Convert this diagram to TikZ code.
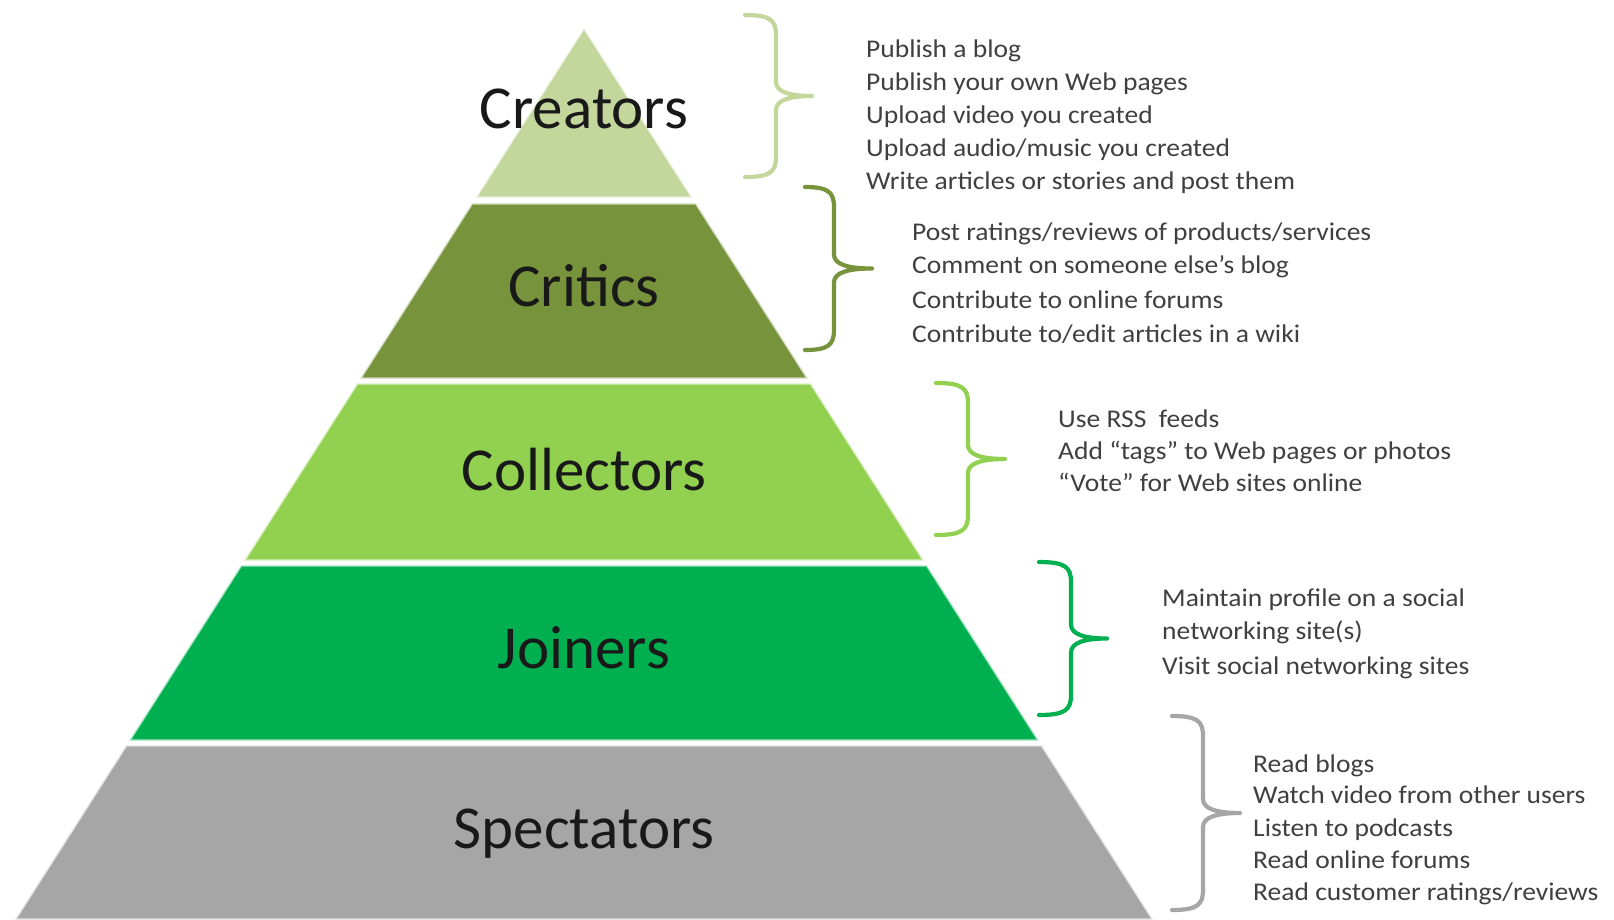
\documentclass[tikz,border=0pt]{standalone}
\usepackage{fontspec}
\setmainfont{Carlito}
\newfontfamily\sidefont[FakeStretch=1.08]{Carlito}

\definecolor{creatorsc}{HTML}{C3D69B}
\definecolor{criticsc}{HTML}{77933C}
\definecolor{collectorsc}{HTML}{92D050}
\definecolor{joinersc}{HTML}{00B050}
\definecolor{spectatorsc}{HTML}{A6A6A6}
\definecolor{sidetext}{HTML}{404040}

\tikzset{
  tier/.style={anchor=base, inner sep=0pt, text=black!90,
    font=\fontsize{61}{61}\selectfont},
  item/.style={anchor=base west, inner sep=0pt, text=sidetext,
    font=\sidefont\fontsize{25.5}{25.5}\selectfont},
  bracestroke/.style={line width=4.2pt, line cap=round, line join=round},
}

% one horizontal slice of the pyramid (apex at (584,29), half-width 0.638 per unit of height)
\newcommand{\tierband}[3]{%
  \pgfmathsetmacro{\hwt}{0.638*(#2-29)}%
  \pgfmathsetmacro{\hwb}{0.638*(#3-29)}%
  \filldraw[fill=#1, draw=#1!35!white, line width=1.2pt]
    (584-\hwt,#2) -- (584+\hwt,#2) -- (584+\hwb,#3) -- (584-\hwb,#3) -- cycle;
}

% right curly brace: colour, x of ends, x of spine, x of tip, y top, y bottom
\newcommand{\sidebrace}[6]{%
  \pgfmathsetmacro{\ymid}{(#5+#6)/2}%
  \draw[bracestroke, draw=#1]
    (#2,#5) .. controls (#3-6,#5) and (#3,#5+5) .. (#3,#5+20)
    -- (#3,\ymid-14) .. controls (#3,\ymid-4) and (#3+14,\ymid) .. (#4,\ymid)
    .. controls (#3+14,\ymid) and (#3,\ymid+4) .. (#3,\ymid+14)
    -- (#3,#6-20) .. controls (#3,#6-5) and (#3-6,#6) .. (#2,#6);
}

\begin{document}
\begin{tikzpicture}[x=1pt, y=-1pt]
  \useasboundingbox (0,0) rectangle (1614,919);
  \fill[white] (0,0) rectangle (1614,919);

  % pyramid tiers
  \tierband{creatorsc}{29}{197}
  \tierband{criticsc}{204}{378}
  \tierband{collectorsc}{384}{560}
  \tierband{joinersc}{566}{740}
  \tierband{spectatorsc}{746}{919}

  \node[tier] (creators)   at (584,128.3) {Creators};
  \node[tier] (critics)    at (584,306.7) {Critics};
  \node[tier] (collectors) at (584,490)   {Collectors};
  \node[tier] (joiners)    at (584,668.3) {Joiners};
  \node[tier] (spectators) at (584,848.3) {Spectators};

  % braces
  \sidebrace{creatorsc}{745}{776}{812}{15}{177}
  \sidebrace{criticsc}{805}{834}{872}{187}{350}
  \sidebrace{collectorsc}{936}{968}{1005}{383}{535}
  \sidebrace{joinersc}{1039}{1071}{1107}{562}{715}
  \sidebrace{spectatorsc}{1172}{1203}{1240}{716}{910}

  % activities of each tier
  \node[item] (cr1) at (866,57.3)  {Publish a blog};
  \node[item] (cr2) at (866,90.2)  {Publish your own Web pages};
  \node[item] (cr3) at (866,123.1) {Upload video you created};
  \node[item] (cr4) at (866,156)   {Upload audio/music you created};
  \node[item] (cr5) at (866,189)   {Write articles or stories and post them};

  \node[item] (ct1) at (912,240.2) {Post ratings/reviews of products/services};
  \node[item] (ct2) at (912,273.5) {Comment on someone else’s blog};
  \node[item] (ct3) at (912,308.2) {Contribute to online forums};
  \node[item] (ct4) at (912,342)   {Contribute to/edit articles in a wiki};

  \node[item] (co1) at (1058,427)   {Use RSS\ \ feeds};
  \node[item] (co2) at (1058,459.5) {Add “tags” to Web pages or photos};
  \node[item] (co3) at (1058,491.5) {“Vote” for Web sites online};

  \node[item] (jo1) at (1162,606.5) {Maintain profile on a social};
  \node[item] (jo2) at (1162,639.3) {networking site(s)};
  \node[item] (jo3) at (1162,674)   {Visit social networking sites};

  \node[item] (sp1) at (1253,772)   {Read blogs};
  \node[item] (sp2) at (1253,803.5) {Watch video from other users};
  \node[item] (sp3) at (1253,836.5) {Listen to podcasts};
  \node[item] (sp4) at (1253,868.3) {Read online forums};
  \node[item] (sp5) at (1253,900)   {Read customer ratings/reviews};
\end{tikzpicture}
\end{document}
